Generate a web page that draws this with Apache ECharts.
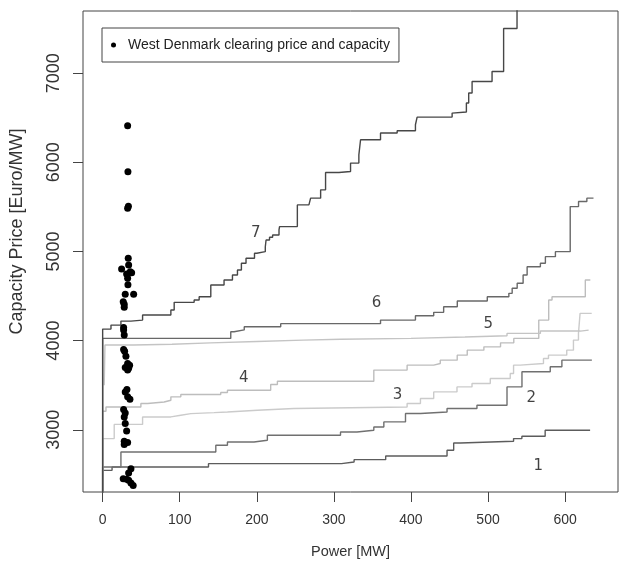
<!DOCTYPE html>
<html>
<head>
<meta charset="utf-8">
<script src="https://cdn.jsdelivr.net/npm/echarts@6/dist/echarts.min.js"></script>
<style>
html,body{margin:0;padding:0;background:#fff;}
#chart{width:619px;height:565px;}
</style>
</head>
<body>
<div id="chart"></div>
<script>
// ---- data ----
const xTicks = [0, 100, 200, 300, 400, 500, 600];
const yTicks = [3000, 4000, 5000, 6000, 7000];

const clearingPoints = [
  [32.4,6410],[32.8,5893],[32.4,5485],[33.4,5506],[33.2,4924],[33.7,4848],[24.6,4803],
  [35.8,4773],[37.6,4762],[31.1,4747],[32.4,4699],[32.8,4627],[29.3,4519],[40.2,4519],
  [26.7,4436],[28.0,4407],[28.0,4373],[27.2,4148],[27.2,4118],[28.0,4062],[27.2,3901],
  [28.5,3882],[30.2,3826],[32.4,3744],[35.0,3725],[29.3,3699],[32.4,3669],[33.7,3691],
  [31.5,3452],[29.3,3425],[32.4,3369],[35.4,3343],[27.2,3227],[29.3,3189],[28.0,3144],
  [29.3,3070],[31.1,2987],[28.0,2871],[32.4,2856],[28.0,2834],[36.7,2564],[33.7,2515],
  [26.7,2452],[33.7,2433],[31.1,2444],[36.7,2402],[39.6,2376]
];

const curve1 = [[0,0],[0,2545],[12.2,2582],[137.3,2620],[309.9,2638],[326.2,2665],[367.2,2706],
  [446.8,2770],[455.4,2852],[464,2871],[533.1,2901],[543.9,2927],[574.1,2994],[632.4,2994]];

const curve2 = [[0,0],[0,2582],[23.7,2751],[146.8,2826],[161.9,2863],[196.4,2882],[213.7,2938],
  [308.6,2975],[330,2994],[351.8,3031],[364.8,3088],[392.9,3182],[412.3,3200],[446.8,3238],
  [485.6,3275],[524.6,3481],[544,3650],[580.7,3706],[595.8,3781],[634.7,3781]];

const curve3 = [[0,0],[0,2901],[15,3060],[51.8,3144],[88.5,3163],[101.4,3181],[114.4,3192],
  [144.6,3200],[161.9,3219],[200.7,3238],[248.2,3256],[395,3294],[412.3,3350],[429.5,3425],
  [459.7,3481],[479.2,3519],[502.9,3575],[528.8,3631],[533.1,3725],[541.7,3743],[571.9,3800],
  [578.4,3837],[602.1,3893],[610.8,4006],[617.3,4081],[619.4,4306],[634.5,4306]];

const curve4 = [[0,0],[0,3208],[4.3,3256],[49.6,3294],[58.3,3312],[79.8,3331],[88.5,3369],
  [101.4,3395],[153.2,3418],[161.9,3444],[218,3508],[226.7,3545],[351.8,3669],[395,3725],
  [429.5,3743],[438,3781],[460,3837],[473,3893],[494.6,3930],[516.2,3975],[533.4,4025],
  [565.8,4230],[578.7,4455],[583,4492],[626.2,4680],[632.7,4680]];

const curve5 = [[2,3500],[3,3950],[40,3960],[90,3975],[140,3990],[200,4005],[260,4015],
  [309,4025],[400,4040],[470,4055],[524.6,4081],[567.9,4107],[619.8,4118],[630.5,4118]];

const curve6 = [[0,0],[0,4025],[166.2,4099],[170.5,4120],[183.7,4155],[231,4190],[360.5,4230],
  [405.8,4279],[429.5,4317],[442.4,4380],[460.1,4444],[499,4492],[527,4530],[531.3,4587],
  [537.8,4643],[545.5,4736],[550.7,4829],[567.9,4867],[574.4,4942],[587.4,4998],[606.6,5503],
  [617.4,5560],[628.2,5598],[636.8,5598]];

const curve7 = [[0,0],[0,4129],[10.8,4174],[23.7,4219],[36.7,4230],[51.8,4287],[88.5,4343],
  [92.8,4429],[118.7,4455],[125.2,4492],[140.3,4624],[157.5,4680],[168.4,4736],[174.9,4792],
  [180,4867],[186,4924],[197,4980],[200,4998],[211,5050],[212,5129],[216.5,5160],[220.5,5185],
  [228.8,5241],[229.5,5279],[252.6,5522],[267.6,5522],[269.8,5598],[282.8,5691],[289.2,5885],
  [306.5,5897],[321.6,5991],[332.4,6084],[334.6,6253],[360.5,6328],[382.1,6354],[405.8,6421],
  [408,6507],[453.4,6552],[455.4,6564],[471.9,6665],[474.9,6777],[479.3,6906],[505.2,7019],
  [520.2,7500],[537.6,7800],[560,7800]];

const curveNames = ['1','2','3','4','5','6','7'];
const curveLabelPos = [[565,2590],[556,3354],[382.5,3388],[183,3579],[500.4,4185],[355.3,4421],[198.6,5208]];
const legendName = 'West Denmark clearing price and capacity';

// ---- chart ----
const curves = [curve1, curve2, curve3, curve4, curve5, curve6, curve7];
const curveColors = ['#5c5c5c','#707070','#cbcbcb','#bdbdbd','#c4c4c4','#686868','#474747'];

const chart = echarts.init(document.getElementById('chart'), null, {renderer:'canvas'});
const sans = 'Liberation Sans, Arial, sans-serif';

const series = curves.map((c, i) => ({
  name: 'curve' + curveNames[i],
  type: 'line',
  step: 'end',
  data: c,
  showSymbol: false,
  symbol: 'none',
  clip: true,
  silent: true,
  lineStyle: {color: curveColors[i], width: 1.4},
  z: 2
}));

series.push({
  name: legendName,
  type: 'scatter',
  data: clearingPoints,
  symbol: 'circle',
  symbolSize: 7,
  itemStyle: {color: '#000', opacity: 1},
  z: 5
});

series.push({
  name: 'labels',
  type: 'scatter',
  data: curveLabelPos.map((p, i) => ({value: p, name: curveNames[i]})),
  symbolSize: 0,
  silent: true,
  label: {
    show: true, position: 'inside',
    formatter: p => p.name,
    fontFamily: 'DejaVu Sans, sans-serif', fontSize: 15, color: '#111'
  },
  z: 6
});

chart.setOption({
  animation: false,
  backgroundColor: '#fff',
  grid: {left: 82, top: 11, right: 1, bottom: 73, show: true, borderColor: '#444', borderWidth: 1, backgroundColor: 'transparent'},
  legend: {
    data: [legendName],
    left: 102, top: 28,
    orient: 'vertical',
    icon: 'circle',
    itemWidth: 5, itemHeight: 5,
    padding: [10, 9, 10, 9],
    borderColor: '#444', borderWidth: 1,
    selectedMode: false,
    itemStyle: {opacity: 1, color: '#000'},
    textStyle: {fontFamily: sans, fontSize: 14, color:'#222', padding:[0,0,0,7]}
  },
  xAxis: {
    type: 'value',
    min: -25.5, max: 668.6,
    name: 'Power [MW]',
    nameLocation: 'middle',
    nameGap: 52,
    nameTextStyle: {fontFamily: sans, fontSize: 14.5, color:'#333'},
    axisLine: {show: false, onZero: false},
    splitLine: {show: false},
    axisTick: {show: true, length: 10, customValues: xTicks, lineStyle: {color: '#444'}},
    axisLabel: {show: true, margin: 21, customValues: xTicks, fontFamily: sans, fontSize: 14, color: '#333'}
  },
  yAxis: {
    type: 'value',
    min: 2302, max: 7697,
    name: 'Capacity Price [Euro/MW]',
    nameLocation: 'middle',
    nameGap: 57,
    nameRotate: 90,
    nameTextStyle: {fontFamily: sans, fontSize: 18, color:'#333', padding: [0, 0, 0, 40]},
    axisLine: {show: false, onZero: false},
    splitLine: {show: false},
    axisTick: {show: true, length: 10, customValues: yTicks, lineStyle: {color: '#444'}},
    axisLabel: {show: true, rotate: 90, margin: 20, customValues: yTicks, formatter: v => String(v), fontFamily: sans, fontSize: 18, color: '#333'}
  },
  series: series
});
</script>
</body>
</html>
